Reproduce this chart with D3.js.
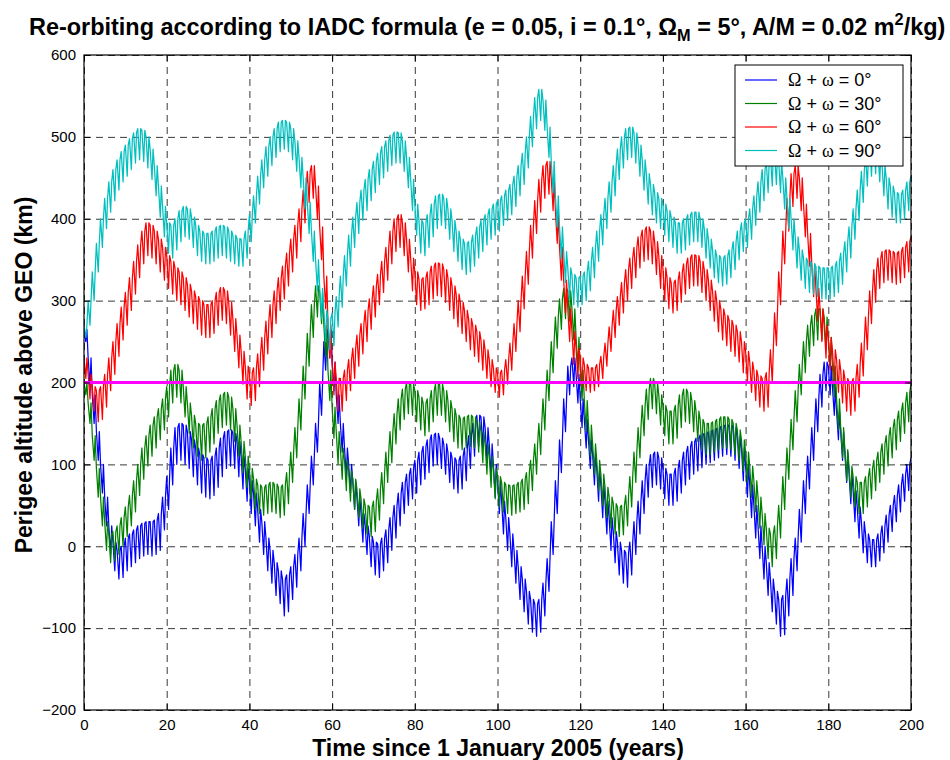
<!DOCTYPE html>
<html>
<head>
<meta charset="utf-8">
<script src="https://cdn.jsdelivr.net/npm/d3@7"></script>
<style>
  body { margin: 0; background: #fff; }
  text { font-family: "Liberation Sans", Arial, Helvetica, sans-serif; }
</style>
</head>
<body>
<svg id="chart" width="950" height="760"></svg>
<script>
// Axis ticks
const xTicks = [0, 20, 40, 60, 80, 100, 120, 140, 160, 180, 200];
const yTicks = [-200, -100, 0, 100, 200, 300, 400, 500, 600];
const reorbitThreshold = 200; // km above GEO

// Legend angles (Ω + ω) and colours
const angles = [0, 30, 60, 90];
const colors = ["#0000ff", "#008000", "#ff0000", "#00bfbf"];

// Perigee altitude per year (km): upper envelope and bottom of the annual dip
const blueTop = [
  265,230,185,140,100,60,25,5,-5,0,
  10,15,20,25,28,30,30,32,40,60,
  85,120,145,150,148,140,130,120,112,108,
  105,110,120,132,140,142,138,128,110,95,
  80,65,45,30,10,-5,-20,-30,-40,-35,
  -25,-10,10,40,75,110,150,200,250,265,
  225,185,150,120,100,80,60,40,25,12,
  5,3,10,20,35,50,65,78,88,95,
  105,115,122,130,136,138,132,125,115,108,
  105,110,120,135,150,160,158,145,125,100,
  80,55,35,15,-5,-25,-40,-55,-65,-70,
  -65,-45,-15,30,80,130,180,220,230,210,
  180,155,130,112,95,75,55,35,18,5,
  -5,-8,5,30,55,80,100,112,115,108,
  95,88,88,95,105,115,122,128,132,136,
  138,140,142,144,146,148,148,145,135,120,
  100,75,50,25,0,-20,-40,-55,-65,-60,
  -40,-15,10,45,80,110,145,180,210,225,
  220,195,165,140,115,90,68,48,30,15,
  8,8,15,25,38,50,62,75,88,100,
  108];
const blueBot = [
  250,195,150,105,65,25,-10,-30,-40,-38,
  -30,-25,-20,-15,-12,-10,-12,-10,-5,20,
  45,75,100,105,100,95,85,75,65,60,
  58,62,72,85,95,98,95,85,70,55,
  40,25,5,-10,-30,-45,-60,-70,-85,-80,
  -65,-50,-30,0,40,75,115,160,215,230,
  190,150,115,85,65,45,25,5,-10,-25,
  -35,-38,-30,-20,-5,10,25,40,50,58,
  65,75,82,90,98,100,95,88,78,70,
  65,70,80,95,110,122,120,105,85,60,
  40,15,-5,-25,-45,-65,-80,-95,-105,-110,
  -105,-85,-55,-10,40,90,140,185,195,175,
  145,120,95,75,55,35,15,-5,-20,-35,
  -45,-50,-35,-10,15,40,60,72,75,70,
  58,50,50,55,65,75,82,88,92,96,
  100,102,105,108,110,112,110,105,95,80,
  60,35,10,-15,-40,-60,-80,-95,-110,-108,
  -85,-60,-30,5,40,70,105,140,170,190,
  185,160,130,105,78,52,30,10,-8,-20,
  -25,-25,-18,-8,5,18,30,42,55,68,
  78];

const greenTop = [
  200,175,135,95,60,30,15,18,25,35,
  48,62,80,100,120,135,148,158,168,180,
  195,215,222,215,195,175,160,150,148,150,
  158,168,178,185,188,182,168,148,128,110,
  95,82,75,72,75,78,76,72,75,90,
  115,145,180,220,260,295,318,310,270,215,
  170,140,120,105,92,82,70,58,50,48,
  55,70,90,115,140,162,180,192,200,198,
  190,182,175,180,190,198,198,190,178,168,
  160,156,158,160,158,152,140,125,110,95,
  85,78,75,74,75,78,82,90,105,125,
  150,180,215,250,280,302,315,312,290,255,
  215,178,148,125,105,88,72,60,52,48,
  50,62,85,115,145,172,192,205,200,185,
  172,165,165,172,185,192,188,178,165,155,
  150,150,152,155,158,158,155,150,142,130,
  115,98,80,60,40,22,15,25,50,85,
  120,155,190,222,250,270,282,290,290,280,
  255,220,180,145,118,98,85,78,78,85,
  95,105,115,125,135,145,155,165,175,188,
  198];
const greenBot = [
  185,150,105,60,25,-5,-20,-18,-10,0,
  12,25,42,62,82,98,110,120,130,142,
  158,175,182,175,158,138,120,110,105,108,
  115,125,138,145,148,142,128,110,90,72,
  58,45,40,38,40,42,40,35,38,52,
  78,108,142,180,220,255,280,272,232,178,
  132,100,82,68,55,45,35,22,15,12,
  18,32,52,78,102,125,142,155,162,160,
  152,142,135,140,152,160,160,152,140,128,
  120,118,120,122,120,115,102,88,72,58,
  48,42,40,38,40,42,45,52,68,88,
  112,142,178,212,242,265,278,275,252,218,
  178,140,110,88,68,50,35,22,15,12,
  14,25,48,78,108,135,155,168,162,148,
  135,125,125,132,145,152,150,140,128,118,
  112,112,115,118,120,120,118,112,105,92,
  78,60,42,22,2,-15,-25,-15,10,45,
  82,118,152,185,212,232,245,252,252,242,
  218,182,142,108,80,60,48,40,40,48,
  58,68,78,88,98,108,118,128,138,152,
  165];

const redTop = [
  230,210,195,190,195,210,230,250,272,292,
  310,328,348,368,385,395,392,385,375,365,
  355,348,340,335,328,320,312,305,300,295,
  295,300,310,316,312,298,278,258,238,220,
  212,218,235,255,275,295,312,328,342,358,
  375,392,412,435,458,465,440,390,330,270,
  225,205,205,215,228,242,258,272,288,302,
  318,332,348,365,385,400,405,395,375,352,
  335,326,328,335,342,346,345,338,328,318,
  308,298,288,278,270,262,252,240,228,218,
  212,215,228,248,272,300,330,360,392,422,
  448,465,470,450,410,365,325,290,262,242,
  230,222,218,218,222,232,248,268,288,305,
  322,338,352,365,378,386,390,385,372,355,
  340,328,322,325,335,345,352,356,355,348,
  338,325,312,300,290,282,276,270,262,250,
  238,225,215,208,205,212,240,285,335,385,
  425,455,465,450,418,382,345,315,290,270,
  255,240,228,215,205,200,205,222,248,280,
  312,338,352,360,362,360,358,360,365,372,
  378];
const redBot = [
  205,180,165,152,155,170,190,210,232,252,
  270,288,308,328,345,355,352,345,335,325,
  315,308,300,295,288,280,272,265,258,255,
  255,260,270,276,272,258,238,218,198,180,
  172,178,195,215,235,255,272,288,302,318,
  335,352,372,395,420,425,400,350,290,230,
  185,165,165,178,190,205,220,235,250,265,
  280,295,310,325,345,360,365,355,335,312,
  295,288,290,295,302,306,305,298,288,278,
  268,260,250,240,232,225,215,205,195,188,
  182,185,198,215,238,262,290,320,352,382,
  408,425,430,410,370,325,285,250,222,205,
  195,190,188,190,195,205,220,238,255,270,
  285,300,315,328,340,348,350,345,332,315,
  300,290,285,288,298,308,315,318,318,310,
  300,288,275,262,252,245,238,232,225,212,
  200,188,178,170,165,170,200,245,295,345,
  385,415,425,410,378,342,305,275,250,230,
  215,200,188,175,165,160,165,182,208,240,
  272,298,315,322,325,322,320,322,328,335,
  342];

const cyanTop = [
  270,300,335,370,400,425,445,460,472,482,
  490,498,505,510,508,500,485,465,440,415,
  395,392,400,410,415,412,402,392,385,382,
  382,385,390,392,390,385,380,376,375,385,
  405,428,452,472,488,500,510,518,520,518,
  510,495,475,450,420,385,350,315,288,278,
  285,305,330,355,380,402,420,435,448,460,
  470,480,488,495,502,506,505,495,475,448,
  418,398,395,405,418,428,430,425,412,398,
  385,375,370,372,380,390,398,405,412,418,
  422,428,435,442,452,465,480,500,525,548,
  558,545,512,470,428,390,360,340,332,328,
  330,335,348,365,385,405,425,445,465,485,
  500,510,512,505,490,472,455,442,432,425,
  418,410,402,395,395,400,405,408,408,400,
  388,375,362,355,352,355,362,372,385,395,
  400,412,428,445,460,470,478,480,470,450,
  425,400,378,362,352,348,345,342,340,340,
  340,342,348,358,372,390,412,435,458,478,
  490,492,482,465,450,440,432,430,435,445,
  452];
const cyanBot = [
  255,270,300,335,365,388,408,422,435,445,
  452,460,468,472,470,462,448,428,402,378,
  358,352,362,372,378,375,365,355,348,345,
  345,348,352,355,352,348,345,342,342,352,
  372,395,418,438,452,465,475,482,485,482,
  472,458,438,412,382,348,312,278,250,240,
  245,268,292,318,342,365,382,398,410,422,
  432,442,450,458,465,468,468,458,438,410,
  380,358,355,365,378,388,392,388,375,360,
  348,338,332,335,342,352,360,368,375,380,
  385,392,398,405,415,428,442,462,488,510,
  520,508,475,432,390,352,322,302,295,292,
  295,300,312,328,348,368,388,408,428,448,
  462,472,475,468,452,435,418,405,395,388,
  380,372,365,358,358,362,368,372,372,365,
  352,340,328,322,318,320,328,338,350,360,
  365,375,392,408,422,432,440,442,432,412,
  388,362,340,325,315,310,308,305,302,302,
  302,305,310,320,335,352,375,398,420,440,
  452,455,445,428,412,402,395,395,400,410,
  420];

const seriesTop = [blueTop, greenTop, redTop, cyanTop];
const seriesBot = [blueBot, greenBot, redBot, cyanBot];

// ---- layout ----
const svg = d3.select("#chart");
const W = 950, H = 760;
const margin = { left: 84, right: 39, top: 55, bottom: 50 };
const plotW = W - margin.left - margin.right;   // 827
const plotH = H - margin.top - margin.bottom;   // 655

const x = d3.scaleLinear().domain([0, 200]).range([margin.left, margin.left + plotW]);
const y = d3.scaleLinear().domain([-200, 600]).range([margin.top + plotH, margin.top]);

svg.append("rect").attr("width", W).attr("height", H).attr("fill", "#fff");

// dashed grid
const gridStyle = g => g.selectAll("line")
  .attr("stroke", "#3a3a3a").attr("stroke-width", 1).attr("stroke-dasharray", "7,5");

svg.append("g")
  .attr("transform", `translate(0,${margin.top + plotH})`)
  .call(d3.axisBottom(x).tickValues(xTicks).tickSize(-plotH).tickFormat(""))
  .call(g => g.select(".domain").remove())
  .call(gridStyle);

svg.append("g")
  .attr("transform", `translate(${margin.left},0)`)
  .call(d3.axisLeft(y).tickValues(yTicks).tickSize(-plotW).tickFormat(""))
  .call(g => g.select(".domain").remove())
  .call(gridStyle);

// clip for the curves
svg.append("clipPath").attr("id", "plotClip")
  .append("rect").attr("x", margin.left).attr("y", margin.top)
  .attr("width", plotW).attr("height", plotH);

// Each year: upper value, dip to the bottom, back to the upper value
function yearlyTrace(top, bot) {
  const pts = [];
  for (let k = 0; k < top.length - 1; k++) {
    pts.push([k, top[k]]);
    pts.push([k + 0.45, bot[k]]);
    pts.push([k + 0.7, top[k]]);
  }
  pts.push([top.length - 1, top[top.length - 1]]);
  return pts;
}

const line = d3.line().x(d => x(d[0])).y(d => y(d[1]));

const curves = svg.append("g").attr("clip-path", "url(#plotClip)");
seriesTop.forEach((top, i) => {
  curves.append("path")
    .datum(yearlyTrace(top, seriesBot[i]))
    .attr("fill", "none")
    .attr("stroke", colors[i])
    .attr("stroke-width", 1.25)
    .attr("stroke-linejoin", "round")
    .attr("d", line);
});

// re-orbit threshold line
curves.append("line")
  .attr("x1", x(0)).attr("x2", x(200))
  .attr("y1", y(reorbitThreshold)).attr("y2", y(reorbitThreshold))
  .attr("stroke", "#ff00ff").attr("stroke-width", 3);

// axes box
svg.append("rect")
  .attr("x", margin.left).attr("y", margin.top)
  .attr("width", plotW).attr("height", plotH)
  .attr("fill", "none").attr("stroke", "#000").attr("stroke-width", 1.2);

// inward ticks with labels
const tickFont = g => g.selectAll("text")
  .attr("font-size", 15).attr("fill", "#000")
  .attr("font-family", "'Liberation Sans', Arial, sans-serif");

svg.append("g")
  .attr("transform", `translate(0,${margin.top + plotH})`)
  .call(d3.axisBottom(x).tickValues(xTicks).tickSize(-6).tickPadding(9).tickFormat(d3.format("d")))
  .call(g => g.select(".domain").remove())
  .call(tickFont);
svg.append("g")
  .attr("transform", `translate(0,${margin.top})`)
  .call(d3.axisTop(x).tickValues(xTicks).tickSize(-6).tickFormat(""))
  .call(g => g.select(".domain").remove());
svg.append("g")
  .attr("transform", `translate(${margin.left},0)`)
  .call(d3.axisLeft(y).tickValues(yTicks).tickSize(-6).tickPadding(8).tickFormat(d3.format("d")))
  .call(g => g.select(".domain").remove())
  .call(tickFont);
svg.append("g")
  .attr("transform", `translate(${margin.left + plotW},0)`)
  .call(d3.axisRight(y).tickValues(yTicks).tickSize(-6).tickFormat(""))
  .call(g => g.select(".domain").remove());

// title
const title = svg.append("text")
  .attr("x", 29).attr("y", 35)
  .attr("font-size", 23).attr("font-weight", "bold");
title.append("tspan").text("Re-orbiting according to IADC formula (e = 0.05, i = 0.1°, Ω");
title.append("tspan").attr("font-size", 16).attr("dy", 6).text("M");
title.append("tspan").attr("dy", -6).text(" = 5°, A/M = 0.02 m");
title.append("tspan").attr("font-size", 16).attr("dy", -10).text("2");
title.append("tspan").attr("dy", 10).text("/kg)");
// keep the title within the page width
{
  const w = title.node().getComputedTextLength();
  const target = 917;
  if (Math.abs(w - target) > 4) {
    const k = target / w;
    title.attr("font-size", 23 * k);
    title.selectAll("tspan").filter(function () { return this.getAttribute("font-size"); })
      .attr("font-size", 16 * k);
  }
}

// axis labels
svg.append("text")
  .attr("x", 498).attr("y", 756)
  .attr("text-anchor", "middle").attr("font-size", 23).attr("font-weight", "bold")
  .text("Time since 1 January 2005 (years)");
svg.append("text")
  .attr("transform", `translate(32,375) rotate(-90)`)
  .attr("text-anchor", "middle").attr("font-size", 23).attr("font-weight", "bold")
  .text("Perigee altitude above GEO (km)");

// legend
const lg = svg.append("g");
lg.append("rect")
  .attr("x", 735).attr("y", 65).attr("width", 168).attr("height", 101)
  .attr("fill", "#fff").attr("stroke", "#000").attr("stroke-width", 1);
angles.forEach((a, i) => {
  const ly = 80 + i * 23.5;
  lg.append("line").attr("x1", 745).attr("x2", 777).attr("y1", ly).attr("y2", ly)
    .attr("stroke", colors[i]).attr("stroke-width", 1.2);
  const t = lg.append("text").attr("x", 788).attr("y", ly + 6).attr("font-size", 18);
  t.append("tspan").attr("font-family", "'Liberation Serif', 'DejaVu Serif', serif").text("Ω");
  t.append("tspan").text(" + ");
  t.append("tspan").attr("font-family", "'Liberation Serif', 'DejaVu Serif', serif").text("ω");
  t.append("tspan").text(` = ${a}°`);
});
</script>
</body>
</html>
